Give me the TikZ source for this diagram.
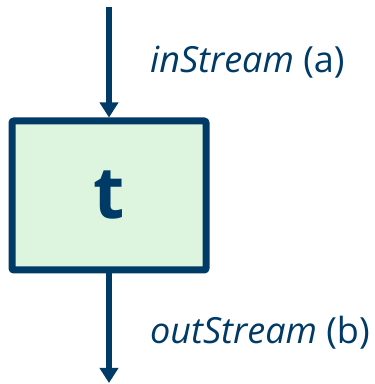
\documentclass[tikz,border=0pt]{standalone}
\usepackage{fontspec}
\setmainfont{Open Sans}
\usetikzlibrary{arrows.meta}
\definecolor{navy}{RGB}{0,58,102}
\definecolor{boxfill}{RGB}{221,245,222}
\tikzset{
  procbox/.style={draw=navy, fill=boxfill, line width=7pt, rounded corners=2pt,
    minimum width=194pt, minimum height=149pt, inner sep=0pt, text=navy,
    font=\fontsize{72}{72}\selectfont\bfseries},
  flow/.style={draw=navy, line width=6pt, -{Triangle[width=18pt,length=15pt]}},
  streamlabel/.style={anchor=base west, inner sep=0pt, text=navy,
    font=\fontsize{36}{36}\selectfont}
}
\begin{document}
\begin{tikzpicture}[x=1pt,y=1pt]
\useasboundingbox (0,0) rectangle (375,384);
\node[procbox] (t) at (109,188.5) {\raisebox{-6pt}{t}};
\coordinate (src) at (109,377);
\coordinate (dst) at (109,1);
\draw[flow] (src) -- (t.north);
\draw[flow] (t.south) -- (dst);
\node[streamlabel] (in) at (150,312) {\textit{inStream} (a)};
\node[streamlabel] (out) at (150,41) {\textit{outStream} (b)};
\end{tikzpicture}
\end{document}
